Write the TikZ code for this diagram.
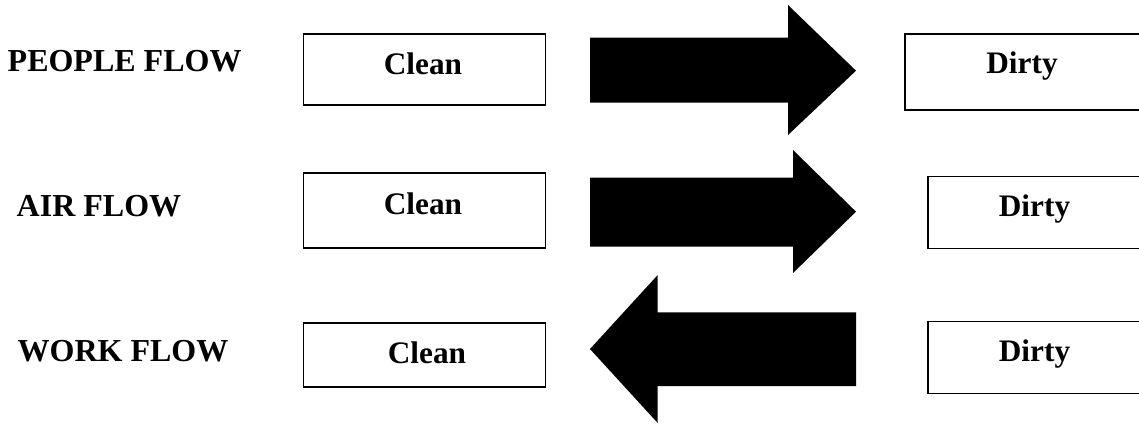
\documentclass[tikz,border=0pt]{standalone}
\usepackage{fontspec}
\setmainfont{Liberation Serif}
\begin{document}
\begin{tikzpicture}[x=1pt,y=-1pt,
  box/.style={draw=black,line width=1.8pt,inner sep=0pt,anchor=north west},
  lbl/.style={font=\fontsize{32}{36}\selectfont\bfseries,inner sep=0pt,anchor=base west},
  txt/.style={font=\fontsize{31.3}{36}\selectfont\bfseries,inner sep=0pt,anchor=base},
  blk/.style={fill=black}]
\useasboundingbox (0,0) rectangle (1139,423);
% row labels
\node[lbl] (people) at (7.5,71) {PEOPLE FLOW};
\node[lbl] (air) at (16.5,216) {AIR FLOW};
\node[lbl] (work) at (17.5,361.7) {WORK FLOW};
% clean boxes
\node[box,minimum width=242pt,minimum height=71pt] (c1) at (302.5,33) {};
\node[box,minimum width=242pt,minimum height=75pt] (c2) at (302.5,172.3) {};
\node[box,minimum width=242pt,minimum height=64pt] (c3) at (302.5,322.3) {};
\node[txt] (c1t) at (423,74.3) {Clean};
\node[txt] (c2t) at (423,214.3) {Clean};
\node[txt] (c3t) at (427,363.3) {Clean};
% dirty boxes
\node[box,minimum width=240pt,minimum height=76pt] (d1) at (904,33) {};
\node[box,minimum width=220pt,minimum height=72pt] (d2) at (927.3,175.5) {};
\node[box,minimum width=220pt,minimum height=72pt] (d3) at (927.3,320.5) {};
\node[txt] (d1t) at (1022,73.3) {Dirty};
\node[txt] (d2t) at (1034.5,216.7) {Dirty};
\node[txt] (d3t) at (1034.5,361.7) {Dirty};
% block arrows
\fill[blk] (590,37.7) -- (788,37.7) -- (788,5) -- (856,70.7) -- (788,135) -- (788,102.7) -- (590,102.7) -- cycle;
\fill[blk] (590,177.7) -- (793,177.7) -- (793,150) -- (856,211.7) -- (793,273) -- (793,246.7) -- (590,246.7) -- cycle;
\fill[blk] (856,312.3) -- (657.7,312.3) -- (657.7,275) -- (590,349) -- (657.7,423) -- (657.7,386) -- (856,386) -- cycle;
\end{tikzpicture}
\end{document}
